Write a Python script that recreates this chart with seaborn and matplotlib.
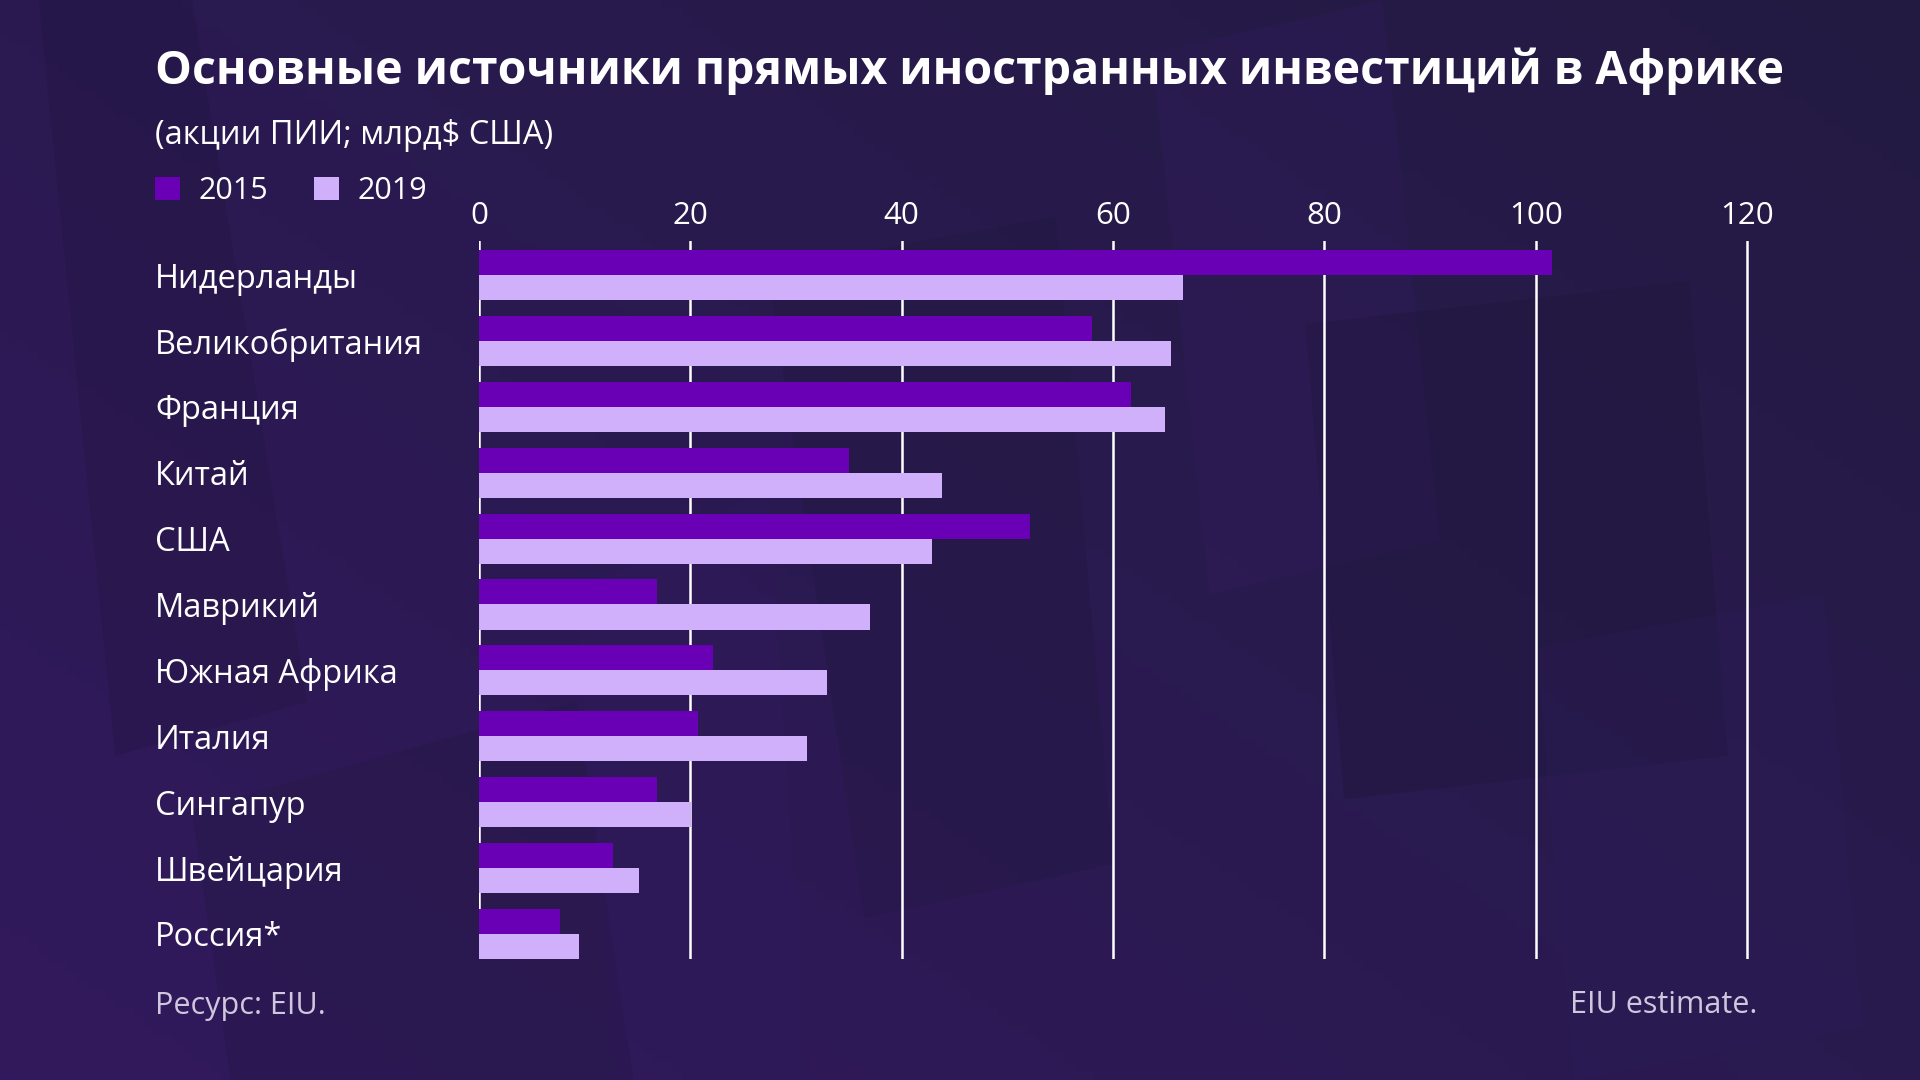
import numpy as np
import pandas as pd
import matplotlib
matplotlib.use('Agg')
import matplotlib.pyplot as plt
import seaborn as sns
from matplotlib.patches import Patch, Polygon

# Data (billion US$, FDI stock)
countries = ['Нидерланды', 'Великобритания', 'Франция', 'Китай', 'США', 'Маврикий',
             'Южная Африка', 'Италия', 'Сингапур', 'Швейцария', 'Россия*']
values_2015 = [101.5, 58.0, 61.7, 35.0, 52.1, 16.8, 22.1, 20.7, 16.8, 12.7, 7.7]
values_2019 = [66.6, 65.5, 64.9, 43.8, 42.9, 37.0, 32.9, 31.0, 20.1, 15.1, 9.5]
years = ['2015', '2019']
ticks = [0, 20, 40, 60, 80, 100, 120]

df = pd.DataFrame({
    'country': countries * 2,
    'year': ['2015'] * len(countries) + ['2019'] * len(countries),
    'value': values_2015 + values_2019,
})

c2015 = '#6900b5'
c2019 = '#d0affb'
bg = '#281a4a'

sns.set_style('dark')
plt.rcParams['font.family'] = ['Open Sans', 'DejaVu Sans']

W, H = 1920, 1080
fig = plt.figure(figsize=(19.2, 10.8), dpi=100)
fig.patch.set_facecolor(bg)

# background with soft gradient and faint shapes
bgax = fig.add_axes([0, 0, 1, 1], zorder=-10)
gx, gy = np.meshgrid(np.linspace(0, 1, 200), np.linspace(0, 1, 120))
grad = 0.55 * gx + 0.45 * (1 - gy)
cmap = matplotlib.colors.LinearSegmentedColormap.from_list('bg', ['#32195d', '#2a1a50', '#231a42'])
bgax.imshow(grad, cmap=cmap, aspect='auto', extent=[0, 1, 0, 1], origin='upper')
shapes = [
    ([(0.02, 1.0), (0.10, 1.0), (0.16, 0.35), (0.06, 0.30)], '#1c1436', 0.22),
    ([(0.40, 0.75), (0.55, 0.80), (0.58, 0.20), (0.45, 0.15)], '#1d1736', 0.22),
    ([(0.60, 0.95), (0.72, 1.0), (0.75, 0.50), (0.63, 0.45)], '#3a1f6e', 0.18),
    ([(0.68, 0.70), (0.88, 0.74), (0.90, 0.30), (0.70, 0.26)], '#1b1632', 0.25),
    ([(0.80, 0.40), (0.95, 0.45), (0.97, 0.05), (0.82, 0.0)], '#2c1d5a', 0.25),
    ([(0.10, 0.25), (0.30, 0.35), (0.33, 0.0), (0.12, 0.0)], '#1c1636', 0.22),
    ([(0.30, 0.45), (0.40, 0.55), (0.42, 0.0), (0.32, 0.0)], '#2f1b5e', 0.25),
]
for pts, col, a in shapes:
    bgax.add_patch(Polygon(pts, closed=True, facecolor=col, alpha=a, edgecolor='none'))
bgax.set_xlim(0, 1)
bgax.set_ylim(0, 1)
bgax.axis('off')

# main axes
x0, x1 = 479, 479 + 1278.6
y_top, y_bot = 241, 959
ax = fig.add_axes([x0 / W, 1 - y_bot / H, (x1 - x0) / W, (y_bot - y_top) / H])
ax.set_facecolor('none')

sns.barplot(data=df, y='country', x='value', hue='year', hue_order=years,
            order=countries, palette=[c2015, c2019], width=0.76,
            saturation=1, legend=False, ax=ax, zorder=3, linewidth=0, edgecolor='none')

ax.set_xlim(0, 121)
ax.set_ylim(10.38, -0.516)
ax.set_xticks(ticks)
ax.xaxis.tick_top()
ax.grid(False)
ax.xaxis.grid(True, color='white', linewidth=1.8)
ax.set_axisbelow(True)
for s in ax.spines.values():
    s.set_visible(False)
ax.set_xlabel('')
ax.set_ylabel('')
ax.tick_params(axis='x', length=0, pad=7, labelsize=22.5, labelcolor='white')
ax.tick_params(axis='y', length=0, pad=(x0 - 155) * 72 / 100, labelsize=23.5, labelcolor='white')
for lab in ax.get_yticklabels():
    lab.set_ha('left')

# title, subtitle, legend, notes
fig.text(155 / W, 1 - 71 / H, 'Основные источники прямых иностранных инвестиций в Африке',
         fontsize=33.4, fontweight='bold', color='white', va='center', ha='left')
fig.text(155 / W, 1 - 135 / H, '(акции ПИИ; млрд$ США)',
         fontsize=23.5, color='white', va='center', ha='left')

handles = [Patch(facecolor=c2015, edgecolor='none'), Patch(facecolor=c2019, edgecolor='none')]
leg = fig.legend(handles, years, loc='center left', bbox_to_anchor=(155 / W, 1 - 191 / H),
                 ncol=2, frameon=False, fontsize=22, handlelength=0.82, handleheight=0.82,
                 handletextpad=0.6, columnspacing=1.5, borderpad=0, borderaxespad=0)
for t in leg.get_texts():
    t.set_color('white')

fig.text(155 / W, 1 - 1006 / H, 'Ресурс: EIU.', fontsize=22, color='#cfc7dd',
         va='center', ha='left')
fig.text(1757 / W, 1 - 1005 / H, 'EIU estimate.', fontsize=22, color='#cfc7dd',
         va='center', ha='right')

fig.savefig('out.png', dpi=100, facecolor=fig.get_facecolor())
plt.close(fig)
